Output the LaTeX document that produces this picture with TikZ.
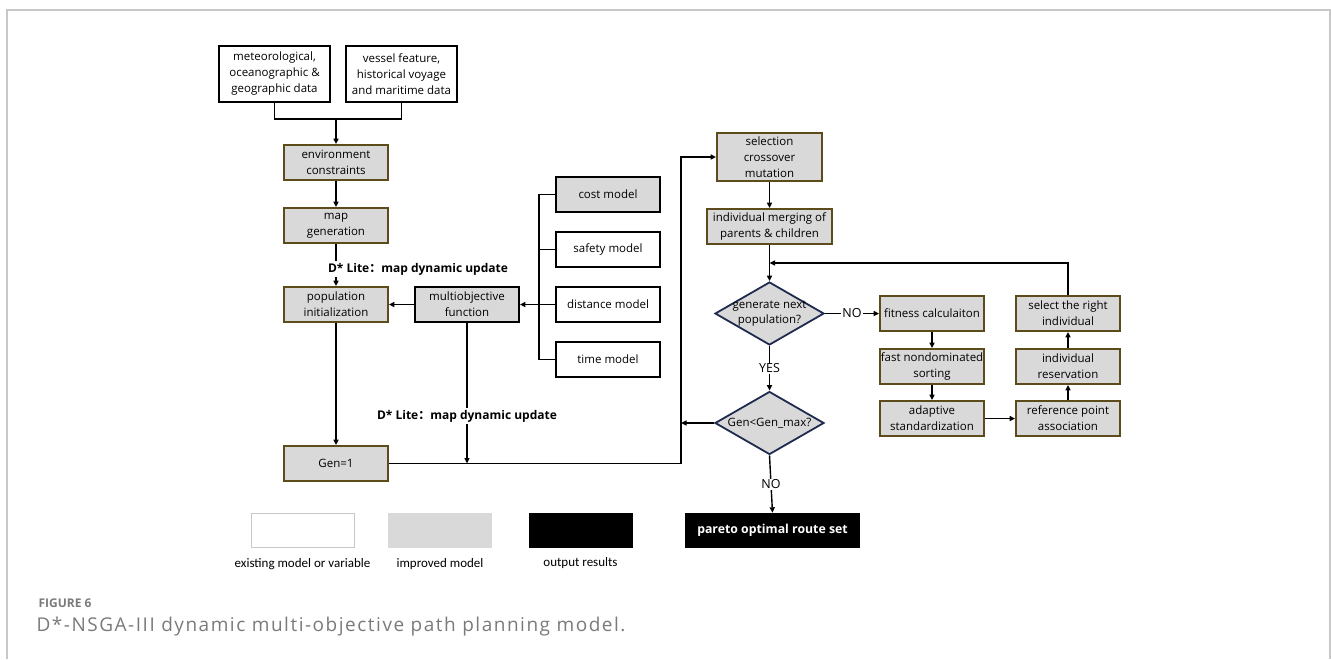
\documentclass[tikz,border=0pt]{standalone}
\usepackage{fontspec}
\setmainfont{Open Sans}
\newfontfamily\cjk{Noto Sans CJK SC}
\newfontfamily\keyfont{Carlito}
\newfontfamily\capfont[LetterSpace=8]{Open Sans}
\usetikzlibrary{arrows.meta,shapes.geometric}
\definecolor{boxgrey}{HTML}{D9D9D9}
\definecolor{rimbrown}{HTML}{5E4B1C}
\definecolor{rimnavy}{HTML}{1F2A4F}
\definecolor{framegrey}{HTML}{C8C8C8}
\definecolor{capgrey}{HTML}{7A7A7A}
\newcommand{\dlite}{\textbf{D* Lite{\cjk\bfseries ：}map dynamic update}}

\begin{document}
\begin{tikzpicture}[x=1pt,y=-1pt,
  every node/.style={font=\fontsize{11.5}{16}\selectfont, align=center},
  datum/.style={draw=black, line width=1.8pt, fill=white, minimum width=111pt, minimum height=56pt, inner sep=1pt},
  improved/.style={draw=rimbrown, line width=1.8pt, fill=boxgrey, minimum width=104pt, minimum height=35pt, inner sep=1pt},
  modelbox/.style={draw=black, line width=1.8pt, fill=white, minimum width=104pt, minimum height=35pt, inner sep=1pt},
  decide/.style={diamond, draw=rimnavy, line width=1.8pt, fill=boxgrey, minimum width=109pt, minimum height=63pt, inner sep=0pt},
  outbox/.style={fill=black, text=white, font=\fontsize{12.3}{14}\selectfont\bfseries, minimum width=175pt, minimum height=35pt},
  keybox/.style={minimum width=103pt, minimum height=34pt, line width=0.8pt},
  keytext/.style={font=\keyfont\fontsize{13}{15}\selectfont},
  wire/.style={line width=1.4pt},
  flow/.style={wire, -{Triangle[length=5.5pt,width=5pt]}},
  note/.style={fill=white, inner sep=1pt, font=\fontsize{12.5}{14}\selectfont}
]
\useasboundingbox (0,0) rectangle (1331,659);
\draw[framegrey, line width=1.5pt] (7,659) -- (7,10) -- (1330,10) -- (1330,659);

% input data and the left column
\node[datum] (met) at (274.5,74) {meteorological,\\oceanographic \&\\geographic data};
\node[datum] (vessel) at (401.5,74) {vessel feature,\\historical voyage\\and maritime data};
\coordinate (join) at (336,119);
\node[improved] (env) at (336,162.5) {environment\\constraints};
\node[improved] (map) at (336,225.5) {map\\generation};
\node[improved] (pop) at (336,304.5) {population\\initialization};
\node[improved] (gen) at (336,463.5) {Gen=1};

% objective models
\node[draw=black, line width=1.8pt, fill=boxgrey, minimum width=104pt, minimum height=35pt, inner sep=1pt] (mof) at (467,304.5) {multiobjective\\function};
\node[draw=black, line width=1.8pt, fill=boxgrey, minimum width=104pt, minimum height=35pt] (cost) at (608,194.5) {cost model};
\node[modelbox] (safety) at (608,249.5) {safety model};
\node[modelbox] (distance) at (608,304.5) {distance model};
\node[modelbox] (time) at (608,359.5) {time model};
\coordinate (bus) at (539,304.5);

% NSGA-III loop
\coordinate (riser) at (681,300);
\node[improved, minimum width=105pt, minimum height=48pt] (sel) at (769.5,157) {selection\\crossover\\mutation};
\node[improved, minimum width=125pt] (merge) at (769.5,226.5) {individual merging of\\parents \& children};
\coordinate (loopin) at (769.5,263);
\node[decide, label={[font=\fontsize{11.5}{15.5}\selectfont, align=center]center:generate next\\population?}] (gnp) at (769.5,313.5) {};
\node[decide, label={[font=\fontsize{11.5}{15}\selectfont]center:Gen<Gen\_max?}] (gmax) at (769.5,423) {};
\node[outbox] (pareto) at (772.5,530.5) {pareto optimal route set};

\node[improved] (fit) at (932,313.5) {fitness calculaiton};
\node[improved] (fast) at (932,366.5) {fast nondominated\\sorting};
\node[improved] (adapt) at (932,418.5) {adaptive\\standardization};
\node[improved] (refpt) at (1068,418.5) {reference point\\association};
\node[improved] (reserve) at (1068,366.5) {individual\\reservation};
\node[improved] (pick) at (1068,313.5) {select the right\\individual};

% connectors
\draw[wire] (met.south) |- (join) -| (vessel.south);
\draw[flow] (join) -- (env);
\draw[flow] (env) -- (map);
\draw[flow] (map) -- (pop);
\node[note, inner sep=2pt, font=\fontsize{12}{14}\selectfont] (dlitea) at (418,269) {\dlite};
\draw[wire] (cost.west) -| (bus) |- (time.west);
\draw[wire] (safety.west) -- (safety.west -| bus);
\draw[wire] (distance.west) -- (bus);
\draw[flow] (bus) -- (mof);
\draw[flow] (mof) -- (pop);
\draw[flow] (pop) -- (gen);
\draw[flow] (mof.south) -- (mof.south |- gen.east);
\node[note, inner sep=2pt, font=\fontsize{12}{14}\selectfont] (dliteb) at (467,416) {\dlite};
\draw[flow] (gen.east) -| (riser) |- (sel.west);
\draw[flow] (sel) -- (merge);
\draw[flow] (merge) -- (gnp.north);
\draw[flow] (gnp.east) -- node[note] {NO} (fit.west);
\draw[flow] (gnp.south) -- node[note] {YES} (gmax.north);
\draw[flow] (gmax.west) -- (gmax.west -| riser);
\draw[flow] (gmax.south) -- node[note] {NO} (pareto.north);
\draw[flow] (fit) -- (fast);
\draw[flow] (fast) -- (adapt);
\draw[flow] (adapt) -- (refpt);
\draw[flow] (refpt) -- (reserve);
\draw[flow] (reserve) -- (pick);
\draw[flow] (pick.north) |- (loopin);

% legend
\node[keybox, draw=framegrey, fill=white] (keyold) at (302.5,530) {};
\node[keybox, draw=boxgrey, fill=boxgrey] (keynew) at (440,530) {};
\node[keybox, draw=black, fill=black] (keyout) at (580.5,530) {};
\node[keytext] (keyoldtxt) at (302.5,564) {existing model or variable};
\node[keytext] (keynewtxt) at (440,564) {improved model};
\node[keytext] (keyouttxt) at (580.5,563) {output results};

% caption
\node[anchor=west, text=capgrey, font=\fontsize{12}{14}\selectfont\bfseries] (figno) at (35,603) {FIGURE 6};
\node[anchor=west, text=capgrey, font=\capfont\fontsize{19}{21}\selectfont] (figcap) at (33,627) {D*-NSGA-III dynamic multi-objective path planning model.};
\end{tikzpicture}
\end{document}
